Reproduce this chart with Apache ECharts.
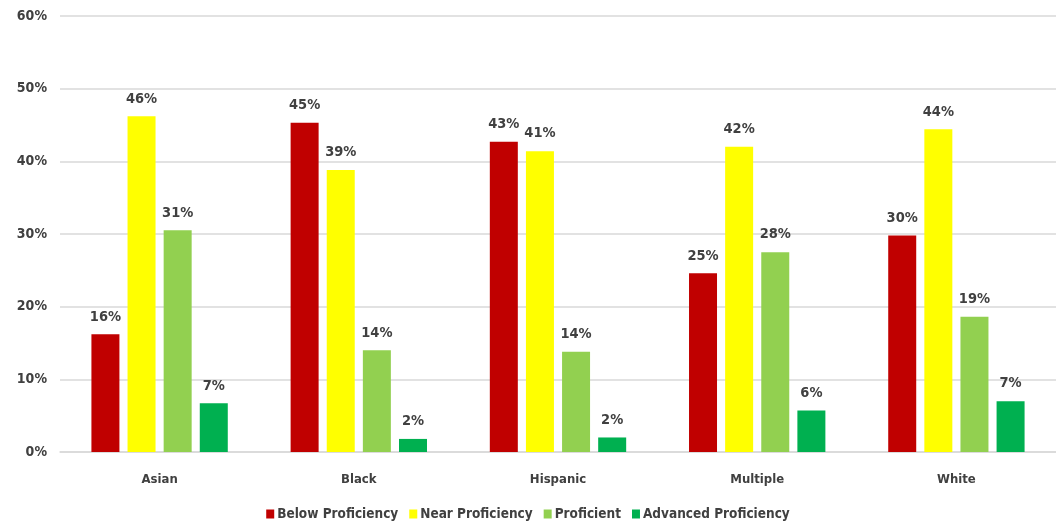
<!DOCTYPE html>
<html>
<head>
<meta charset="utf-8">
<script src="https://cdn.jsdelivr.net/npm/echarts@6/dist/echarts.min.js"></script>
<style>html,body{margin:0;padding:0;background:#fff;}#c{width:1056px;height:532px;}</style>
</head>
<body>
<div id="c"></div>
<script>
var categories = ['Asian', 'Black', 'Hispanic', 'Multiple', 'White'];
var below = [16.2, 45.3, 42.7, 24.6, 29.8];
var near = [46.2, 38.8, 41.4, 42.0, 44.4];
var proficient = [30.5, 14.0, 13.8, 27.5, 18.6];
var advanced = [6.7, 1.8, 2.0, 5.7, 7.0];
var seriesNames = ['Below Proficiency', 'Near Proficiency', 'Proficient', 'Advanced Proficiency'];
var colors = ['#C00000', '#FFFF00', '#92D050', '#00B050'];

var FONT = '"DejaVu Sans Condensed", "DejaVu Sans", sans-serif';
var TXT = '#404040';

var chart = echarts.init(document.getElementById('c'));
function mk(name, data, color) {
  return {
    name: name, type: 'bar', data: data, barWidth: 28, barGap: '29%',
    itemStyle: { color: color },
    label: {
      show: true, position: 'top', distance: 10,
      formatter: function (p) { return Math.round(p.value) + '%'; },
      color: TXT, fontFamily: FONT, fontWeight: 'bold', fontSize: 14.5
    }
  };
}
chart.setOption({
  animation: false,
  grid: { left: 60, right: 0, top: 16, bottom: 80, containLabel: false },
  legend: {
    bottom: 6, left: 'center', itemWidth: 8, itemHeight: 9, itemGap: 11,
    icon: 'rect',
    textStyle: { color: TXT, fontFamily: FONT, fontWeight: 'bold', fontSize: 13.5, padding: [0, 0, 0, -2] },
    data: seriesNames
  },
  xAxis: {
    type: 'category', data: categories,
    axisLine: { lineStyle: { color: '#d9d9d9', width: 1.5 } },
    axisTick: { show: false },
    axisLabel: { color: TXT, fontFamily: FONT, fontWeight: 'bold', fontSize: 13, margin: 21 }
  },
  yAxis: {
    type: 'value', min: 0, max: 60, interval: 10,
    axisLine: { show: false }, axisTick: { show: false },
    splitLine: { lineStyle: { color: '#d9d9d9', width: 1.5 } },
    axisLabel: { color: TXT, fontFamily: FONT, fontWeight: 'bold', fontSize: 14, margin: 13, formatter: '{value}%' }
  },
  series: [
    mk(seriesNames[0], below, colors[0]),
    mk(seriesNames[1], near, colors[1]),
    mk(seriesNames[2], proficient, colors[2]),
    mk(seriesNames[3], advanced, colors[3])
  ]
});
</script>
</body>
</html>
